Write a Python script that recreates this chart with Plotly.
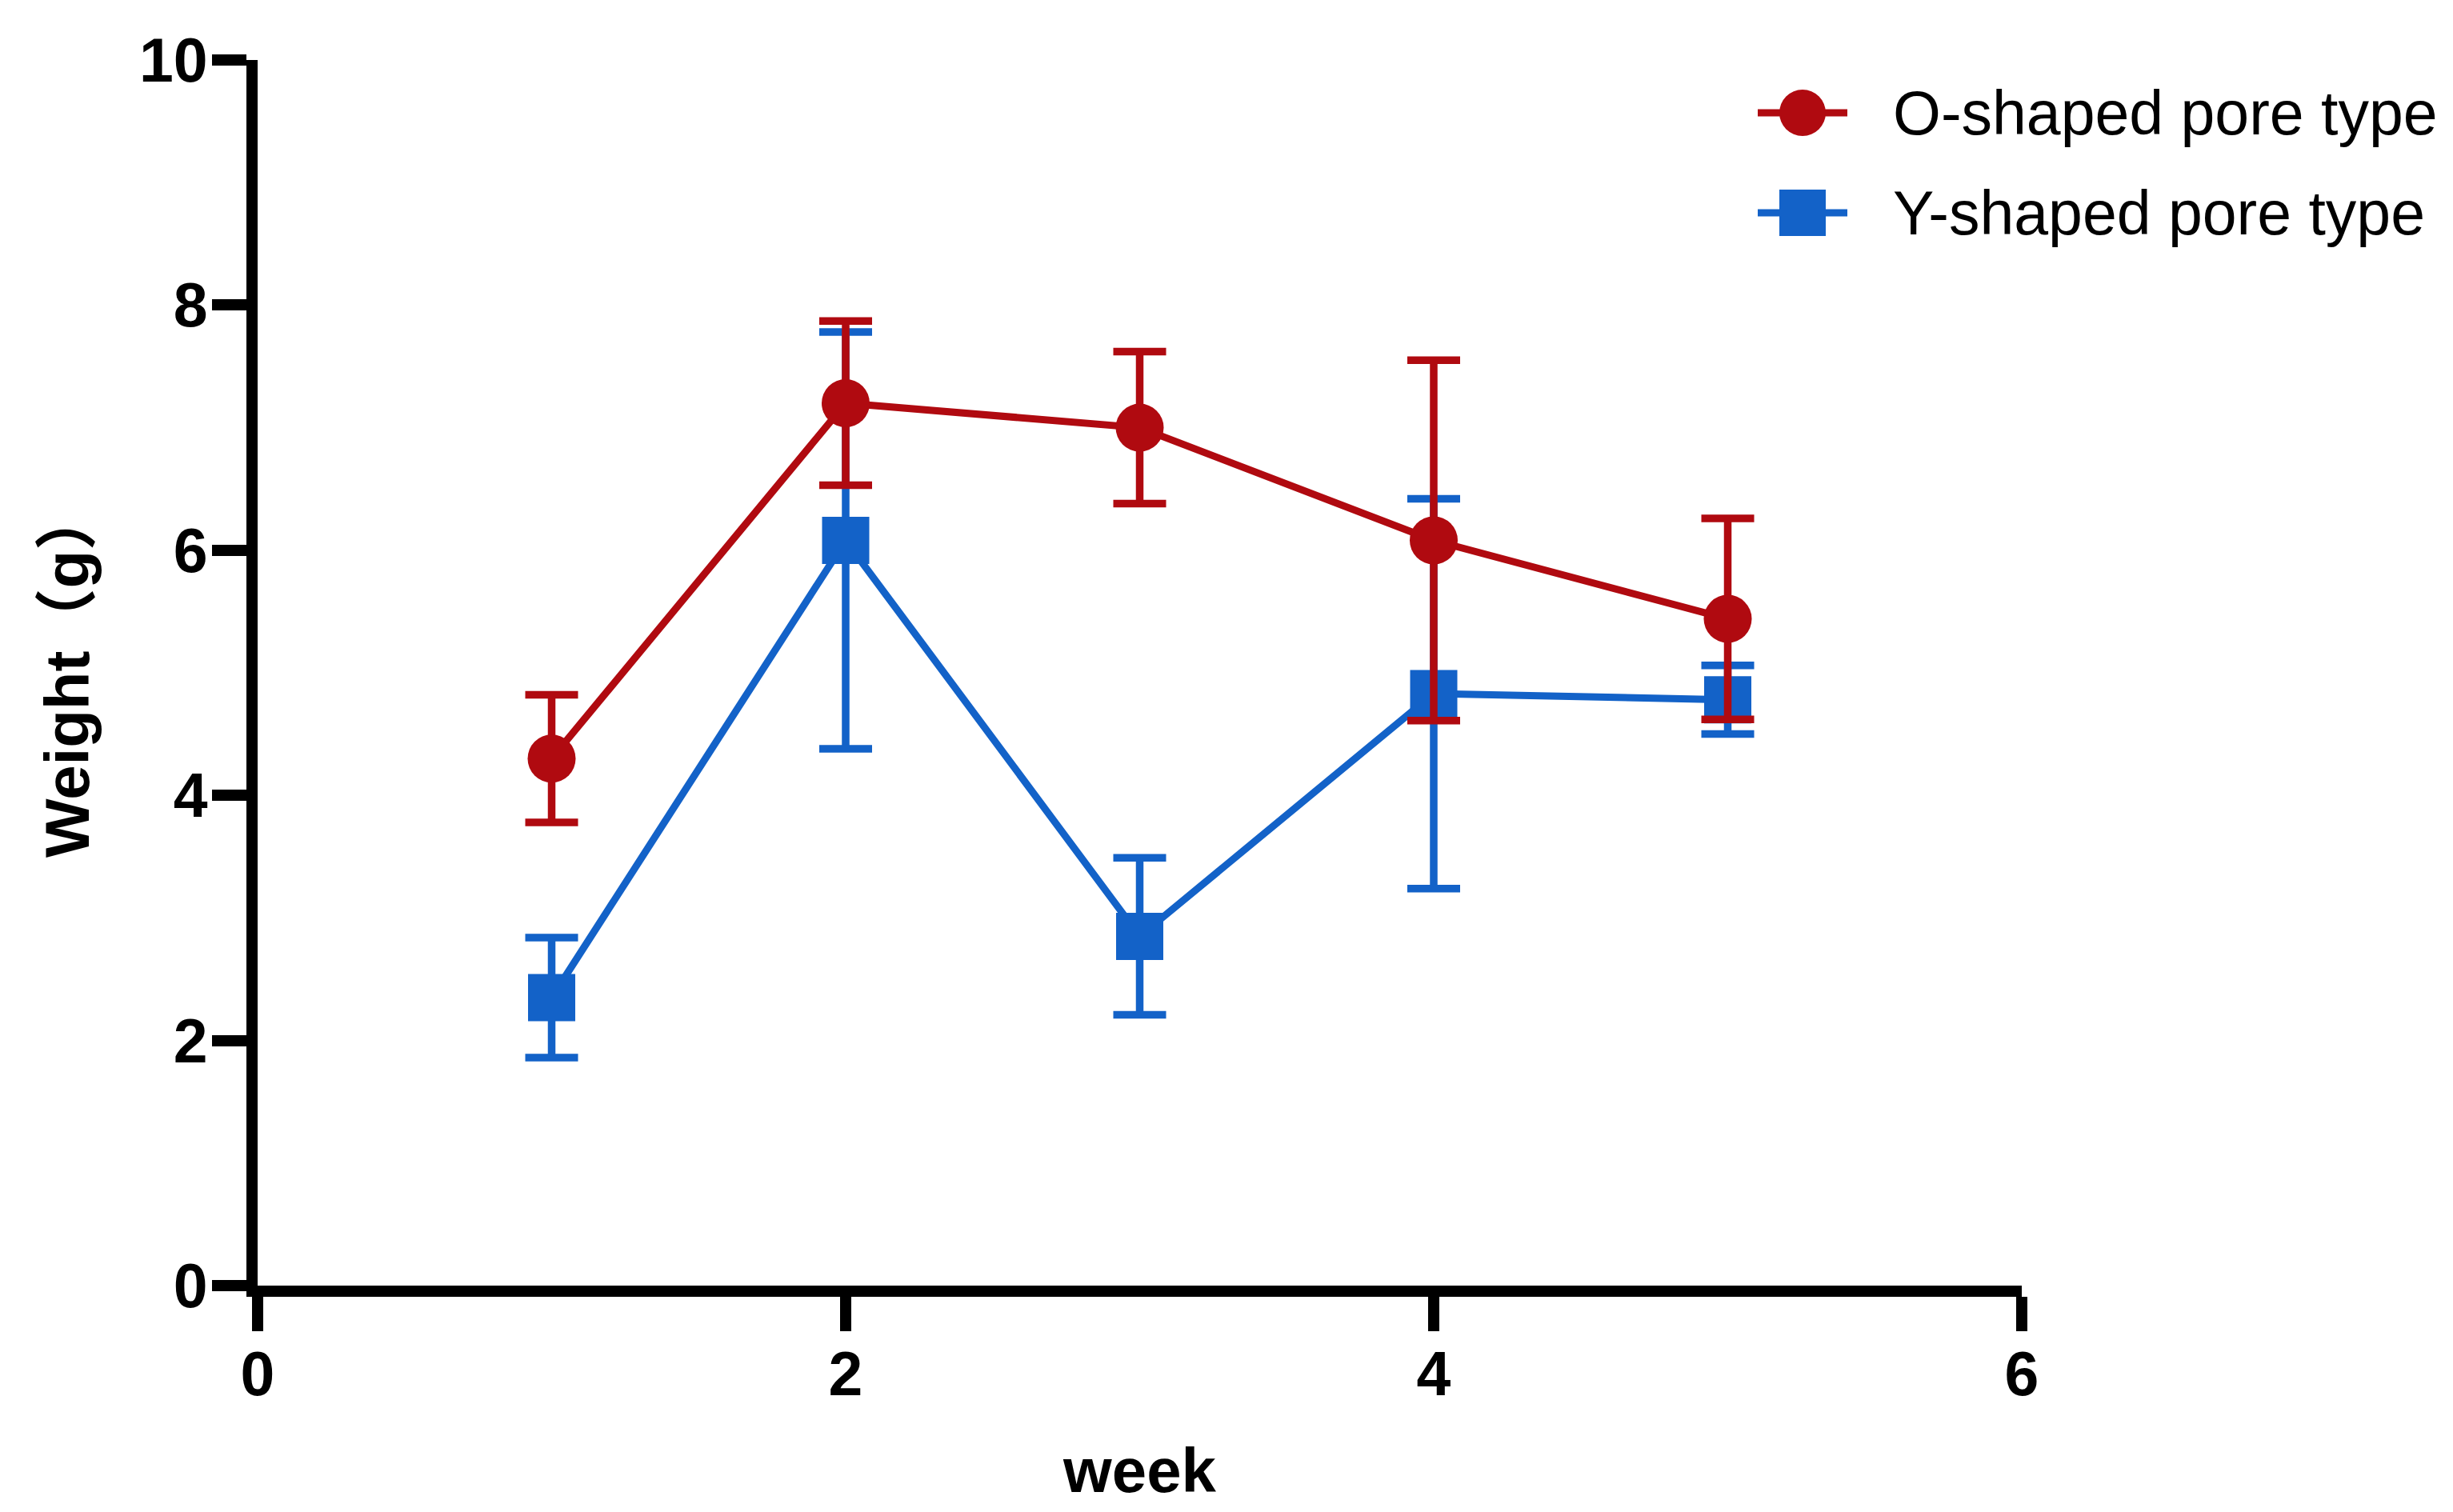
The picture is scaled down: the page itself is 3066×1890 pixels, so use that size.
import plotly.graph_objects as go

# ---- data ----
weeks = [1, 2, 3, 4, 5]
o_mean = [4.30, 7.20, 7.00, 6.08, 5.44]
o_err = [0.52, 0.67, 0.62, 1.47, 0.82]
y_mean = [2.35, 6.08, 2.85, 4.83, 4.78]
y_err = [0.49, 1.70, 0.64, 1.59, 0.28]
x_ticks = [0, 2, 4, 6]
y_ticks = [0, 2, 4, 6, 8, 10]
series_names = ["O-shaped pore type", "Y-shaped pore type"]

RED = "#B00A10"
BLUE = "#1362C8"

W, H = 3066, 1890
OFF = 8  # default page body margin shifts the figure by this many px
L, R, T, B = 322 - OFF, 539 + OFF, 75 - OFF, 283 + OFF
PW, PH = W - L - R, H - T - B


def px(xpix):
    return (xpix - OFF - L) / PW


def py(ypix):
    return 1 - (ypix - OFF - T) / PH


fig = go.Figure()

# Y-shaped first so that the O-shaped series is drawn on top
fig.add_trace(go.Scatter(
    x=weeks, y=y_mean, name=series_names[1], mode="lines+markers",
    line=dict(color=BLUE, width=9),
    marker=dict(symbol="square", size=59, color=BLUE, line=dict(width=0)),
    error_y=dict(type="data", array=y_err, visible=True, color=BLUE,
                 thickness=9.5, width=33),
    showlegend=False,
))
fig.add_trace(go.Scatter(
    x=weeks, y=o_mean, name=series_names[0], mode="lines+markers",
    line=dict(color=RED, width=9),
    marker=dict(symbol="circle", size=60, color=RED, line=dict(width=0)),
    error_y=dict(type="data", array=o_err, visible=True, color=RED,
                 thickness=9.5, width=33),
    showlegend=False,
))

tickfont = dict(family="Liberation Sans, Arial, sans-serif", size=77,
                color="black", weight="bold")
titlefont = dict(family="Liberation Sans, Arial, Noto Sans CJK SC, sans-serif",
                 size=78, color="black", weight="bold")

fig.update_xaxes(
    range=[0, 6], tickvals=x_ticks, ticktext=[str(v) for v in x_ticks],
    showline=True, linewidth=14, linecolor="black",
    ticks="outside", ticklen=43, tickwidth=14, tickcolor="black",
    showgrid=False, zeroline=False, tickfont=tickfont,
    ticklabelstandoff=-12,
    title=dict(text="week", font=titlefont, standoff=57),
)
fig.update_yaxes(
    range=[0, 10], tickvals=y_ticks, ticktext=[str(v) for v in y_ticks],
    showline=True, linewidth=14, linecolor="black",
    ticks="outside", ticklen=43, tickwidth=14, tickcolor="black",
    showgrid=False, zeroline=False, tickfont=tickfont,
    ticklabelstandoff=-10,
    title=dict(text="Weight（g）", font=titlefont, standoff=43),
)

# ---- legend (drawn as decoration so symbols keep the chart's size) ----
legend_rows = [(141, RED, "circle", series_names[0]),
               (266, BLUE, "square", series_names[1])]
shapes = []
annotations = []
for ypix, col, sym, label in legend_rows:
    shapes.append(dict(type="line", xref="paper", yref="paper",
                       x0=px(2197), x1=px(2309), y0=py(ypix), y1=py(ypix),
                       line=dict(color=col, width=9)))
    shapes.append(dict(type="circle" if sym == "circle" else "rect",
                       xref="paper", yref="paper",
                       xsizemode="pixel", ysizemode="pixel",
                       xanchor=px(2253), yanchor=py(ypix),
                       x0=-29, x1=29, y0=-29, y1=29,
                       fillcolor=col, line=dict(width=0)))
    annotations.append(dict(text=label, xref="paper", yref="paper",
                            x=px(2364), y=py(ypix), xanchor="left",
                            yanchor="middle", showarrow=False,
                            font=dict(family="Liberation Sans, Arial, sans-serif",
                                      size=77, color="black")))

fig.update_layout(
    width=W, height=H, autosize=False,
    margin=dict(l=L, r=R, t=T, b=B),
    paper_bgcolor="white", plot_bgcolor="white",
    shapes=shapes, annotations=annotations,
    showlegend=False,
)

fig.write_html("out.html")
